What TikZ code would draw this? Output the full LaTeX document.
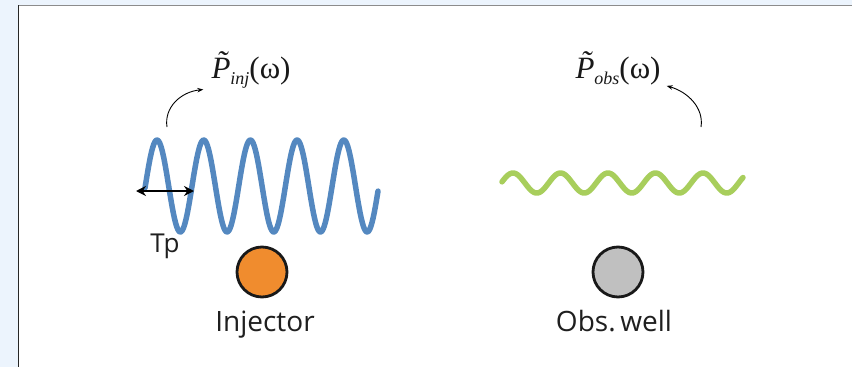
\documentclass[tikz,border=0pt]{standalone}
\usepackage{fontspec}
\setsansfont{Open Sans}
\newfontfamily\tms{Liberation Serif}
\usetikzlibrary{arrows.meta}
\definecolor{bgblue}{RGB}{236,244,253}
\definecolor{waveblue}{RGB}{84,136,192}
\definecolor{wavegreen}{RGB}{168,206,92}
\definecolor{injorange}{RGB}{240,140,46}
\definecolor{obsgray}{RGB}{192,192,192}
\newcommand{\plab}[1]{{\itshape\~{P}}\raisebox{-6.5pt}{\fontsize{18}{18}\selectfont\itshape #1}(ω)}
\tikzset{
  wave/.style={line width=5.5pt, line cap=round, line join=round},
  wellnode/.style={circle, draw=black!90, line width=2.8pt, minimum size=50pt, inner sep=0pt},
  wlabel/.style={font=\sffamily\fontsize{28}{28}\selectfont, text=black!88, inner sep=0pt},
  plabel/.style={font=\tms\fontsize{31}{31}\selectfont, text=black!90, inner sep=0pt},
  curvearrow/.style={line width=0.9pt, -{Stealth[length=6pt,width=4.5pt]}}
}
\begin{document}
\begin{tikzpicture}[x=1pt,y=-1pt]
\useasboundingbox (0,0) rectangle (852,367);
\fill[bgblue] (0,0) rectangle (852,367);
\fill[white] (18,5) rectangle (852,367);
\draw[black!45, line width=1.2pt] (18,5.5) -- (852,5.5);
\draw[black!85, line width=1.5pt] (18.5,5) -- (18.5,367);

% waves
\draw[wave, waveblue] plot[domain=145:378, samples=240, smooth] (\x, {186-46*cos(7.7088*(\x-157))});
\draw[wave, wavegreen] plot[domain=502:743, samples=240, smooth] (\x, {183-10*cos(7.5789*(\x-513))});

% Tp arrow
\coordinate (tpa) at (136,191);
\coordinate (tpb) at (194,191);
\draw[line width=2pt, {Stealth[length=10pt,width=10pt]}-{Stealth[length=10pt,width=10pt]}] (tpa) -- (tpb);
\node[wlabel, font=\sffamily\fontsize{26}{26}\selectfont] (tp) at (165,246) {Tp};

% wells
\node[wellnode, fill=injorange] (inj) at (262,272) {};
\node[wellnode, fill=obsgray] (obs) at (618,272) {};
\node[wlabel, anchor=base] (injl) at (265,331) {Injector};
\node[wlabel, anchor=base] (obsl) at (614,331) {Obs.\,well};

% pressure labels
\node[plabel, anchor=base] (pinj) at (251,78) {\plab{inj}};
\node[plabel, anchor=base] (pobs) at (618,78) {\plab{obs}};

\coordinate (sinj) at (167,127);
\coordinate (sobs) at (701,127);
\draw[curvearrow] (sinj) .. controls (164,108) and (180,92) .. ([xshift=-8pt,yshift=-1pt]pinj.south west);
\draw[curvearrow] (sobs) .. controls (704,108) and (688,92) .. ([xshift=6pt,yshift=-1pt]pobs.south east);
\end{tikzpicture}
\end{document}
